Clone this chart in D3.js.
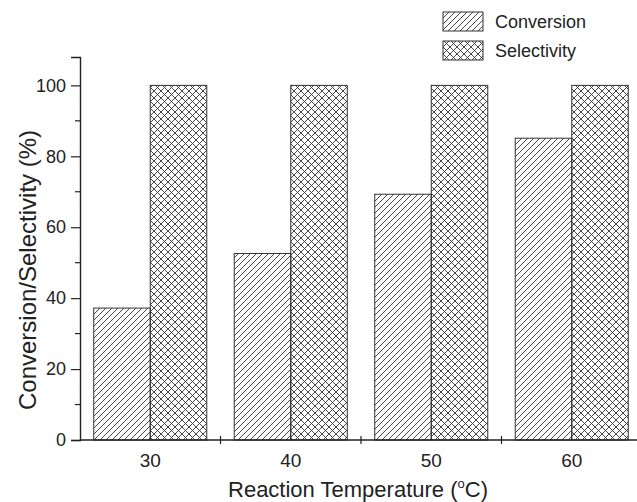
<!DOCTYPE html>
<html>
<head>
<script src="https://d3js.org/d3.v7.min.js"></script>
<style>
    body { margin: 0; background: #fff; }
    text { font-family: Arial, "Liberation Sans", sans-serif; fill: #222; }
</style>
</head>
<body>
<div id="chart"></div>
<script>
    // data
    var temps = ["30", "40", "50", "60"];
    var series = ["Conversion", "Selectivity"];
    var conversion = [37.2, 52.6, 69.3, 85.1];
    var selectivity = [100, 100, 100, 100];
    var yTicks = [0, 20, 40, 60, 80, 100];
    var yMinor = [10, 30, 50, 70, 90];

    var width = 637, height = 502;
    var margin = { left: 80, top: 57, bottom: 62 };

    var svg = d3.select("#chart").append("svg")
        .attr("width", width)
        .attr("height", height);

    var defs = svg.append("defs");

    // hatch "///"
    var p1 = defs.append("pattern")
        .attr("id", "hatch")
        .attr("patternUnits", "userSpaceOnUse")
        .attr("width", 6).attr("height", 6);
    p1.append("path")
        .attr("d", "M0,6 L6,0 M-1,1 L1,-1 M5,7 L7,5")
        .attr("stroke", "#333").attr("stroke-width", 0.9);

    // cross hatch
    var p2 = defs.append("pattern")
        .attr("id", "cross")
        .attr("patternUnits", "userSpaceOnUse")
        .attr("width", 7).attr("height", 7);
    p2.append("path")
        .attr("d", "M0,7 L7,0 M-1,1 L1,-1 M6,8 L8,6 M0,0 L7,7 M-1,6 L1,8 M6,-1 L8,1")
        .attr("stroke", "#333").attr("stroke-width", 0.9);

    var fills = { "Conversion": "url(#hatch)", "Selectivity": "url(#cross)" };

    var x = d3.scaleBand()
        .domain(temps)
        .range([margin.left, margin.left + 4 * 140.5])
        .padding(0);

    var xs = d3.scaleBand()
        .domain(series)
        .range([0, x.bandwidth()])
        .paddingInner(0)
        .paddingOuter(0.243);

    var y = d3.scaleLinear()
        .domain([0, 108])
        .range([height - margin.bottom, margin.top]);

    var y0 = y(0);

    var rows = temps.map(function(t, i) {
        return { temp: t, Conversion: conversion[i], Selectivity: selectivity[i] };
    });

    var g = svg.append("g");
    rows.forEach(function(r) {
        series.forEach(function(s) {
            g.append("rect")
                .attr("x", x(r.temp) + xs(s))
                .attr("y", y(r[s]))
                .attr("width", xs.bandwidth())
                .attr("height", y0 - y(r[s]))
                .attr("fill", fills[s])
                .attr("stroke", "#333")
                .attr("stroke-width", 1);
        });
    });

    // y axis
    var yAxis = svg.append("g")
        .attr("transform", "translate(" + margin.left + ",0)")
        .call(d3.axisLeft(y).tickValues(yTicks).tickSize(9).tickPadding(5));
    yAxis.select(".domain").attr("stroke", "#222").attr("stroke-width", 1.4);
    yAxis.selectAll(".tick line").attr("stroke", "#222").attr("stroke-width", 1.2);
    yAxis.selectAll("text").style("font-size", "18px").attr("fill", "#222");

    svg.append("g").selectAll("line")
        .data(yMinor)
        .enter().append("line")
        .attr("x1", margin.left - 5).attr("x2", margin.left)
        .attr("y1", function(d) { return y(d); })
        .attr("y2", function(d) { return y(d); })
        .attr("stroke", "#222").attr("stroke-width", 1.2);

    // x axis
    svg.append("line")
        .attr("x1", margin.left).attr("x2", width)
        .attr("y1", y0).attr("y2", y0)
        .attr("stroke", "#222").attr("stroke-width", 1.4);

    svg.append("g").selectAll("line")
        .data(temps.slice(1))
        .enter().append("line")
        .attr("x1", function(d) { return x(d); })
        .attr("x2", function(d) { return x(d); })
        .attr("y1", y0 - 4).attr("y2", y0 + 4)
        .attr("stroke", "#222").attr("stroke-width", 1.2);

    svg.append("g").selectAll("text")
        .data(temps)
        .enter().append("text")
        .attr("x", function(d) { return x(d) + x.bandwidth() / 2; })
        .attr("y", y0 + 27)
        .attr("text-anchor", "middle")
        .style("font-size", "19px")
        .text(function(d) { return d; });

    // axis titles
    var xt = svg.append("text")
        .attr("x", 358)
        .attr("y", 497)
        .attr("text-anchor", "middle")
        .style("font-size", "22px");
    xt.append("tspan").text("Reaction Temperature (");
    xt.append("tspan").attr("dy", -9).style("font-size", "13px").text("o");
    xt.append("tspan").attr("dy", 9).text("C)");

    svg.append("text")
        .attr("transform", "translate(36,270) rotate(-90)")
        .attr("text-anchor", "middle")
        .style("font-size", "24px")
        .text("Conversion/Selectivity (%)");

    // legend
    var leg = svg.append("g").attr("transform", "translate(443,12)");
    series.forEach(function(s, i) {
        leg.append("rect")
            .attr("x", 0).attr("y", i * 29)
            .attr("width", 40).attr("height", 19)
            .attr("fill", fills[s])
            .attr("stroke", "#333").attr("stroke-width", 1);
        leg.append("text")
            .attr("x", 52).attr("y", i * 29 + 16)
            .style("font-size", "18px")
            .text(s);
    });
</script>
</body>
</html>
